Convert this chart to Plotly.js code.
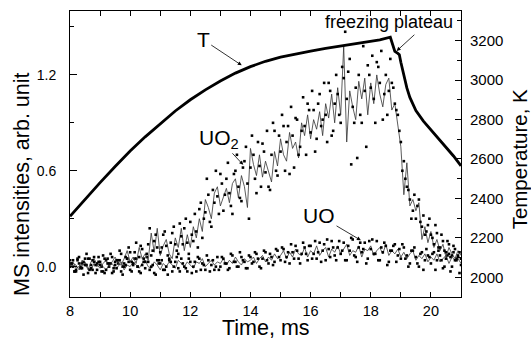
<!DOCTYPE html>
<html><head><meta charset="utf-8">
<script src="https://cdn.plot.ly/plotly-3.0.1.min.js"></script>
<style>html,body{margin:0;padding:0;background:#fff}#chart{width:531px;height:341px}</style>
</head><body><div id="chart"></div>
<script>
// sampling grids of the MS signals (ms)
const gridA = 8.0, gridB = 8.05, sampleStep = 0.1;

// UO2 signal, connected (thin line), 8.0 ... 21.0 ms
const uo2Line = [
 0.01,0.03,-0.01,0.0,0.04,0.02,-0.02,0.03,0.05,0.01,
 -0.01,0.02,0.04,0.0,0.03,0.06,0.02,0.01,0.05,0.1,
 0.03,0.06,0.02,0.12,0.05,0.08,0.04,0.21,0.09,0.24,
 0.07,0.13,0.17,0.08,0.05,0.18,0.12,0.24,0.1,0.2,
 0.12,0.25,0.18,0.3,0.22,0.42,0.37,0.3,0.46,0.5,
 0.38,0.44,0.49,0.4,0.52,0.55,0.43,0.57,0.5,0.37,
 0.74,0.64,0.57,0.7,0.56,0.66,0.6,0.53,0.72,0.63,
 0.8,0.7,0.66,0.84,0.74,0.78,0.68,0.9,0.82,0.95,
 0.8,0.92,0.86,0.97,0.82,1.02,0.93,1.08,0.9,1.12,
 0.95,1.38,0.78,1.1,1.0,0.92,1.16,1.05,1.18,0.95,
 1.15,1.02,1.2,1.08,1.0,1.14,1.18,0.98,1.02,0.9,
 0.75,0.45,0.65,0.38,0.42,0.35,0.4,0.17,0.25,0.15,
 0.22,0.12,0.17,0.1,0.14,0.06,0.12,0.08,0.05,0.1,
 0.07];

// UO2 raw points, 8.05 ... 20.95 ms
const uo2DotsB = [
 0.02,-0.03,0.05,-0.01,0.03,0.08,-0.02,0.04,0.01,0.06,
 -0.03,0.05,0.02,0.08,-0.01,0.04,0.1,0.0,0.06,0.12,
 0.03,0.09,0.0,0.13,0.05,0.08,0.24,0.1,0.2,0.04,
 0.12,0.22,0.07,0.15,0.25,0.1,0.27,0.14,0.3,0.08,
 0.2,0.33,0.12,0.4,0.3,0.55,0.28,0.48,0.6,0.33,
 0.52,0.45,0.65,0.38,0.58,0.7,0.43,0.62,0.75,0.3,
 0.82,0.55,0.78,0.5,0.72,0.85,0.48,0.9,0.6,0.82,
 0.95,0.6,0.88,1.0,0.62,0.92,0.75,1.06,0.7,0.98,
 1.1,0.72,1.02,0.88,1.15,0.78,1.1,0.85,1.2,0.95,
 1.25,1.47,1.22,0.64,0.9,0.68,0.95,1.38,0.75,1.2,
 1.32,0.9,1.25,1.35,1.08,0.95,1.3,1.12,0.98,0.85,
 0.6,0.55,0.48,0.3,0.45,0.38,0.28,0.32,0.22,0.3,
 0.18,0.26,0.12,0.2,0.1,0.16,0.06,0.13,0.04,0.09];

// UO2 raw points, 8.0 ... 21.0 ms
const uo2DotsA = [
 0.04,0.0,-0.02,0.06,0.02,0.01,0.05,-0.01,0.06,0.02,
 0.03,0.07,-0.02,0.02,0.06,0.01,0.04,0.08,0.02,0.05,
 0.09,0.01,0.15,0.06,0.11,0.03,0.14,0.07,0.16,0.12,
 0.09,0.2,0.13,0.05,0.21,0.14,0.08,0.19,0.24,0.15,
 0.28,0.16,0.22,0.36,0.18,0.34,0.45,0.25,0.4,0.44,
 0.58,0.35,0.55,0.46,0.33,0.6,0.5,0.41,0.66,0.52,
 0.62,0.7,0.46,0.63,0.77,0.59,0.5,0.7,0.85,0.57,
 0.72,0.88,0.78,0.58,0.82,0.93,0.7,0.85,0.88,1.02,
 0.84,0.98,0.8,1.08,0.92,0.95,1.15,0.82,1.02,1.08,
 0.9,1.18,1.05,1.3,1.0,1.12,1.2,0.9,1.1,1.26,
 1.12,1.05,1.28,1.15,0.92,1.2,1.1,1.15,1.02,0.95,
 0.78,0.66,0.5,0.42,0.35,0.3,0.42,0.25,0.2,0.26,
 0.2,0.14,0.21,0.12,0.16,0.09,0.14,0.07,0.11,0.06,
 0.05];

// UO signal, connected (thin line), 8.0 ... 21.0 ms
const uoLine = [
 -0.01,0.02,0.01,-0.02,0.0,0.03,-0.01,-0.02,0.02,0.0,
 0.03,0.0,-0.02,0.01,0.02,-0.01,0.0,0.03,-0.02,0.01,
 0.0,0.03,0.01,-0.01,0.02,0.04,0.0,-0.01,0.03,0.01,
 -0.02,0.02,0.0,0.03,0.01,-0.01,0.04,0.02,0.0,0.03,
 0.01,-0.01,0.03,0.02,0.05,0.0,0.02,0.04,0.01,0.03,
 0.02,0.05,0.01,0.04,0.02,0.06,0.03,0.01,0.05,0.03,
 0.04,0.06,0.02,0.05,0.07,0.03,0.06,0.04,0.08,0.05,
 0.07,0.1,0.05,0.09,0.06,0.11,0.08,0.07,0.12,0.06,
 0.1,0.08,0.13,0.07,0.1,0.12,0.06,0.11,0.09,0.13,
 0.08,0.11,0.14,0.07,0.1,0.09,0.13,0.06,0.11,0.1,
 0.13,0.07,0.1,0.12,0.08,0.14,0.07,0.1,0.08,0.11,
 0.06,0.09,0.05,0.08,0.1,0.04,0.07,0.05,0.08,0.03,
 0.06,0.04,0.08,0.03,0.05,0.07,0.02,0.06,0.04,0.05,
 0.02];

// UO raw points, 8.05 ... 20.95 ms
const uoDotsB = [
 0.02,-0.03,0.04,0.0,-0.05,0.01,0.05,-0.02,-0.04,0.03,
 0.0,-0.04,0.05,0.02,-0.03,-0.01,0.04,-0.05,0.01,0.03,
 -0.03,0.05,0.0,-0.04,0.03,0.06,-0.02,0.01,-0.05,0.02,
 0.04,-0.02,-0.05,0.03,0.0,0.06,-0.03,0.02,-0.01,0.05,
 -0.04,0.03,0.06,-0.02,0.01,0.07,-0.03,0.04,0.0,-0.02,
 0.06,0.02,-0.02,0.08,0.03,0.0,0.09,0.04,-0.01,0.07,
 0.02,0.09,0.05,-0.01,0.1,0.04,0.08,0.01,0.11,0.06,
 0.12,0.03,0.09,0.14,0.05,0.1,0.02,0.15,0.08,0.13,
 0.05,0.16,0.09,0.03,0.14,0.17,0.06,0.12,0.04,0.16,
 0.1,0.04,0.13,0.18,0.07,0.03,0.15,0.11,0.02,0.16,
 0.17,0.08,0.04,0.12,0.15,0.01,0.1,0.13,0.03,0.11,
 0.14,0.05,0.0,0.1,0.12,0.02,0.08,-0.02,0.11,0.06,
 0.08,-0.02,0.1,0.04,0.0,0.07,-0.03,0.09,0.05,-0.04];

// UO raw points, 8.0 ... 21.0 ms
const uoDotsA = [
 0.0,0.04,-0.03,0.02,-0.01,0.05,-0.04,0.01,0.03,-0.02,
 0.01,-0.03,0.04,0.0,-0.04,0.03,0.02,-0.03,0.0,0.05,
 -0.02,0.02,0.05,-0.03,0.01,-0.01,0.03,0.0,-0.04,0.04,
 0.02,-0.02,0.0,0.04,-0.03,0.03,-0.01,0.05,0.0,-0.03,
 0.03,0.0,-0.03,0.05,0.02,-0.02,0.04,0.01,-0.02,0.06,
 0.0,0.05,0.02,-0.01,0.07,0.03,0.0,0.06,0.03,-0.01,
 0.06,0.03,0.08,0.0,0.05,0.09,0.02,0.06,0.03,0.1,
 0.04,0.11,0.06,0.02,0.09,0.13,0.05,0.08,0.12,0.04,
 0.13,0.08,0.05,0.15,0.1,0.04,0.11,0.16,0.07,0.12,
 0.08,0.15,0.04,0.1,0.17,0.06,0.12,0.09,0.15,0.05,
 0.11,0.08,0.16,0.04,0.09,0.13,0.03,0.1,0.14,0.07,
 0.05,0.12,0.07,0.02,0.1,0.06,0.0,0.09,0.04,0.07,
 0.02,0.09,0.04,0.07,-0.01,0.05,0.08,0.0,0.04,0.07,
 0.01];

// Temperature (pyrometer), K
const tempTime = [8.0,8.5,9.0,9.5,10.0,10.5,11.0,11.5,12.0,12.5,13.0,13.5,14.0,14.5,15.0,15.5,16.0,16.5,17.0,17.5,18.0,18.3,18.65,18.72,18.8,18.9,18.95,19.0,19.1,19.2,19.3,19.4,19.5,19.75,20.0,20.25,20.5,20.75,21.0];
const tempVals = [2309,2397,2480,2562,2640,2712,2780,2843,2900,2950,2995,3035,3068,3095,3116,3133,3147,3160,3172,3184,3196,3204,3217,3180,3145,3135,3128,3090,3020,2960,2912,2875,2845,2792,2748,2705,2660,2615,2565];

const xTitle = 'Time, ms';
const yTitle = 'MS intensities, arb. unit';
const y2Title = 'Temperature, K';

function grid(start, n) { const a = []; for (let i = 0; i < n; i++) a.push(+(start + i * sampleStep).toFixed(2)); return a; }

const FONT = 'Liberation Sans, Arial, Helvetica, sans-serif';
const lineStyle = {color: '#333', width: 0.8};
const dotStyle = {symbol: 'square', size: 2.6, color: '#000'};

const traces = [
  {x: grid(gridA, uoLine.length), y: uoLine, mode: 'lines', line: lineStyle},
  {x: grid(gridA, uoDotsA.length), y: uoDotsA, mode: 'markers', marker: dotStyle},
  {x: grid(gridB, uoDotsB.length), y: uoDotsB, mode: 'markers', marker: dotStyle},
  {x: grid(gridA, uo2Line.length), y: uo2Line, mode: 'lines', line: lineStyle},
  {x: grid(gridA, uo2DotsA.length), y: uo2DotsA, mode: 'markers', marker: dotStyle},
  {x: grid(gridB, uo2DotsB.length), y: uo2DotsB, mode: 'markers', marker: dotStyle},
  {x: tempTime, y: tempVals, mode: 'lines', line: {color: '#000', width: 2.8}, yaxis: 'y2'}
];

const labelFont = {family: FONT, size: 21, color: '#000'};
const arrowStyle = {showarrow: true, arrowhead: 2, arrowsize: 1, arrowwidth: 0.8, arrowcolor: '#000', standoff: 0,
                    xref: 'x', yref: 'y', axref: 'x', ayref: 'y'};
const annotations = [
  Object.assign({}, arrowStyle, {text: 'T', font: labelFont, ax: 12.43, ay: 1.42, x: 13.71, y: 1.26}),
  {text: 'freezing plateau', x: 18.6, y: 1.53, xref: 'x', yref: 'y', showarrow: false, font: {family: FONT, size: 18, color: '#000'}},
  Object.assign({}, arrowStyle, {text: '', x: 18.86, y: 1.35, ax: 19.5, ay: 1.46}),
  Object.assign({}, arrowStyle, {text: 'UO<sub>2</sub>', font: labelFont, ax: 12.95, ay: 0.8, x: 13.76, y: 0.637}),
  Object.assign({}, arrowStyle, {text: 'UO', font: labelFont, ax: 16.28, ay: 0.32, x: 17.67, y: 0.165}),
  {text: yTitle, textangle: -90, x: -0.123, y: 0.395, xref: 'paper', yref: 'paper', showarrow: false, xanchor: 'center', yanchor: 'middle', font: {family: FONT, size: 21.5, color: '#000'}},
  {text: y2Title, textangle: -90, x: 1.15, y: 0.48, xref: 'paper', yref: 'paper', showarrow: false, xanchor: 'center', yanchor: 'middle', font: {family: FONT, size: 20.5, color: '#000'}},
  {text: xTitle, x: 0.5, y: -0.11, xref: 'paper', yref: 'paper', showarrow: false, xanchor: 'center', yanchor: 'middle', borderpad: 0, font: {family: FONT, size: 21.5, color: '#000'}}
];

const layout = {
  width: 531, height: 341,
  margin: {l: 70, r: 70, t: 11, b: 44, pad: 0},
  paper_bgcolor: '#fff', plot_bgcolor: '#fff',
  showlegend: false,
  font: {family: FONT, color: '#000'},
  xaxis: {range: [8, 21], tick0: 8, dtick: 2, ticks: 'inside', ticklen: 5, tickwidth: 1, tickcolor: '#000',
          showline: true, linecolor: '#000', linewidth: 1, mirror: 'allticks', showgrid: false, zeroline: false,
          minor: {dtick: 1, tick0: 8, ticks: 'inside', ticklen: 3, tickcolor: '#000'},
          tickfont: {size: 14.5}, ticklabelstandoff: 1},
  yaxis: {range: [-0.19, 1.6], tick0: 0, dtick: 0.6, tickformat: '.1f', ticks: 'inside', ticklen: 7, tickcolor: '#000',
          showline: true, linecolor: '#000', linewidth: 1, showgrid: false, zeroline: false,
          minor: {dtick: 0.3, tick0: 0, ticks: 'inside', ticklen: 4, tickcolor: '#000'},
          tickfont: {size: 14}, ticklabelstandoff: 10},
  yaxis2: {range: [1900, 3350], overlaying: 'y', side: 'right', tick0: 2000, dtick: 200, ticks: 'inside', ticklen: 6, tickcolor: '#000',
           showline: true, linecolor: '#000', linewidth: 1, showgrid: false, zeroline: false,
           minor: {dtick: 100, tick0: 2000, ticks: 'inside', ticklen: 4, tickcolor: '#000'},
           tickfont: {size: 15}, ticklabelstandoff: 5},
  annotations: annotations
};

Plotly.newPlot('chart', traces, layout, {staticPlot: true, displayModeBar: false});
</script>
</body></html>
